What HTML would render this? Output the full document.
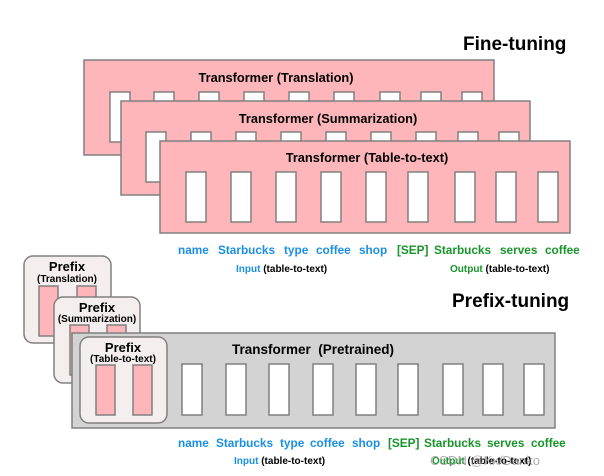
<!DOCTYPE html>
<html><head><meta charset="utf-8"><style>
html,body{margin:0;padding:0;background:#fff;}
svg{display:block;font-family:"Liberation Sans",Arial,sans-serif;}
.b{font-weight:bold}
.bl{fill:#1b8fe6;font-weight:bold;font-size:11.8px}
.gr{fill:#17952a;font-weight:bold;font-size:11.8px}
.sm{font-size:10px;font-weight:bold}
</style></head><body>
<svg width="604" height="476" viewBox="0 0 604 476">
<g stroke="#808080" stroke-width="1.5">
<rect x="84" y="60" width="410" height="95" fill="#feb6ba"/>
<g fill="#fff"><rect x="110" y="92" width="20" height="50"/><rect x="154" y="92" width="20" height="10"/><rect x="199" y="92" width="20" height="10"/><rect x="244" y="92" width="20" height="10"/><rect x="289" y="92" width="20" height="10"/><rect x="334" y="92" width="20" height="10"/><rect x="380" y="92" width="20" height="10"/><rect x="421" y="92" width="20" height="10"/><rect x="462" y="92" width="20" height="10"/></g>
<rect x="121" y="101" width="409" height="94" fill="#feb6ba"/>
<g fill="#fff"><rect x="146" y="132" width="20" height="50"/><rect x="191" y="132" width="20" height="10"/><rect x="236" y="132" width="20" height="10"/><rect x="281" y="132" width="20" height="10"/><rect x="326" y="132" width="20" height="10"/><rect x="371" y="132" width="20" height="10"/><rect x="416" y="132" width="20" height="10"/><rect x="458" y="132" width="20" height="10"/><rect x="499" y="132" width="20" height="10"/></g>
<rect x="160" y="141" width="410" height="92" fill="#feb6ba"/>
<g fill="#fff"><rect x="186" y="172" width="20" height="50"/><rect x="231" y="172" width="20" height="50"/><rect x="276" y="172" width="20" height="50"/><rect x="321" y="172" width="20" height="50"/><rect x="366" y="172" width="20" height="50"/><rect x="408" y="172" width="20" height="50"/><rect x="455" y="172" width="20" height="50"/><rect x="496" y="172" width="20" height="50"/><rect x="538" y="172" width="20" height="50"/></g>
<rect x="24" y="256" width="87" height="87" rx="9" fill="#f4eeee"/>
<rect x="39" y="286" width="19" height="50" fill="#feb6ba"/><rect x="77" y="286" width="19" height="50" fill="#feb6ba"/>
<rect x="54" y="297" width="86" height="86" rx="9" fill="#f4eeee"/>
<rect x="70" y="325" width="19" height="50" fill="#feb6ba"/><rect x="107" y="325" width="19" height="50" fill="#feb6ba"/>
<rect x="72" y="333" width="483" height="95" fill="#d3d3d3"/>
<g fill="#fff"><rect x="182" y="364" width="20" height="51"/><rect x="226" y="364" width="20" height="51"/><rect x="269" y="364" width="20" height="51"/><rect x="313" y="364" width="20" height="51"/><rect x="356" y="364" width="20" height="51"/><rect x="398" y="364" width="20" height="51"/><rect x="443" y="364" width="20" height="51"/><rect x="483" y="364" width="20" height="51"/><rect x="524" y="364" width="20" height="51"/></g>
<rect x="80" y="337" width="87" height="86" rx="9" fill="#f4eeee"/>
<rect x="96" y="365" width="19" height="50" fill="#feb6ba"/><rect x="133" y="365" width="19" height="50" fill="#feb6ba"/>
</g>
<g class="b" font-size="12.8">
<text x="276" y="82" text-anchor="middle">Transformer (Translation)</text>
<text x="328" y="123" text-anchor="middle">Transformer (Summarization)</text>
<text x="367" y="162" text-anchor="middle">Transformer (Table-to-text)</text>
<text x="313" y="354" text-anchor="middle" font-size="13.5" xml:space="preserve">Transformer  (Pretrained)</text>
</g>
<text x="463" y="50" class="b" font-size="19">Fine-tuning</text>
<text x="452" y="307" class="b" font-size="19">Prefix-tuning</text>
<g class="b" text-anchor="middle">
<text x="67" y="271" font-size="13">Prefix</text><text x="67" y="282" font-size="10">(Translation)</text>
<text x="97" y="312" font-size="13">Prefix</text><text x="97" y="322" font-size="10">(Summarization)</text>
<text x="123" y="352" font-size="13">Prefix</text><text x="123" y="362" font-size="10">(Table-to-text)</text>
</g>
<text y="254"><tspan x="178" class="bl">name</tspan><tspan x="218" class="bl">Starbucks</tspan><tspan x="284" class="bl">type</tspan><tspan x="316" class="bl">coffee</tspan><tspan x="359" class="bl">shop</tspan><tspan x="397" class="gr">[SEP]</tspan><tspan x="434" class="gr">Starbucks</tspan><tspan x="500" class="gr">serves</tspan><tspan x="545" class="gr">coffee</tspan></text>
<text y="272" class="sm"><tspan x="236" fill="#1b8fe6">Input</tspan><tspan> (table-to-text)</tspan></text>
<text y="272" class="sm"><tspan x="450" fill="#17952a">Output</tspan><tspan> (table-to-text)</tspan></text>
<text y="447"><tspan x="178" class="bl">name</tspan><tspan x="216" class="bl">Starbucks</tspan><tspan x="280" class="bl">type</tspan><tspan x="310" class="bl">coffee</tspan><tspan x="352" class="bl">shop</tspan><tspan x="388" class="gr">[SEP]</tspan><tspan x="424" class="gr">Starbucks</tspan><tspan x="487" class="gr">serves</tspan><tspan x="531" class="gr">coffee</tspan></text>
<text y="464" class="sm"><tspan x="234" fill="#1b8fe6">Input</tspan><tspan> (table-to-text)</tspan></text>
<text y="464" class="sm"><tspan x="432" fill="#17952a">Output</tspan><tspan> (table-to-text)</tspan></text>
<text x="430" y="465" font-size="13" fill="#999" opacity="0.8">CSDN @Kx/Danko</text>
</svg>
</body></html>
